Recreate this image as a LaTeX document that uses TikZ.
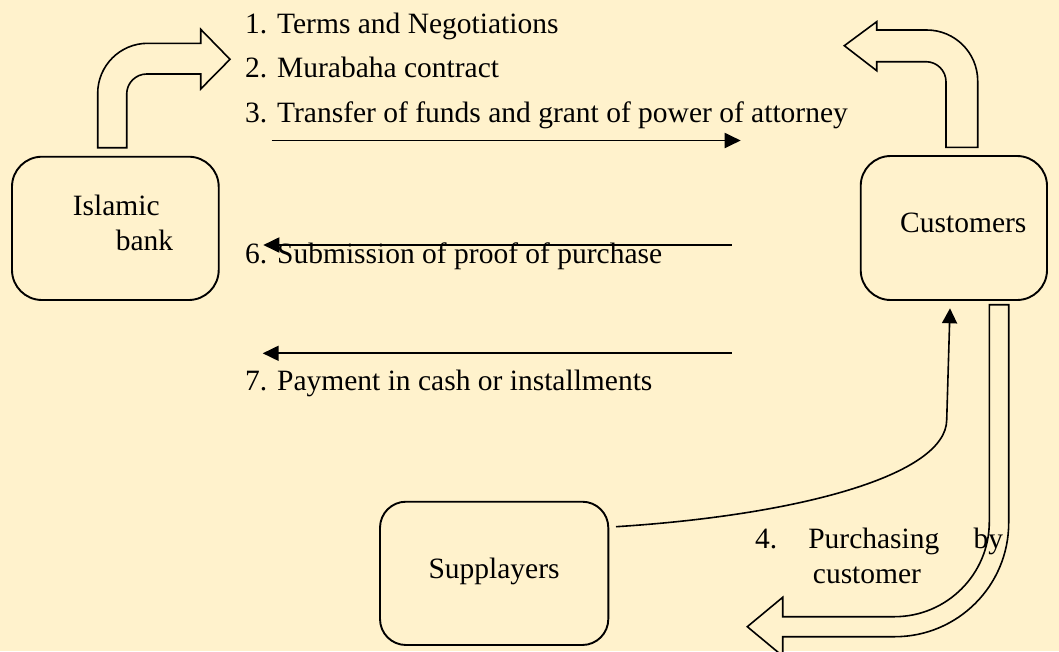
\documentclass[tikz,border=0pt]{standalone}
\usepackage{fontspec}
\setmainfont{Liberation Serif}
\usetikzlibrary{arrows.meta}
\definecolor{paper}{HTML}{FFF2CC}
\begin{document}
\begin{tikzpicture}[x=1pt,y=-1pt,
  box/.style={draw,line width=1.9pt,rounded corners=30pt,inner sep=0pt},
  lbl/.style={anchor=base west,inner sep=0pt,font=\fontsize{29.5}{35}\selectfont},
  bent/.style={draw,line width=1.6pt,fill=paper,line join=miter},
  flow/.style={line width=1.9pt,-{Triangle[length=16pt,width=15pt]}}]
\fill[paper] (0,0) rectangle (1059,651);
\useasboundingbox (0,0) rectangle (1059,651);

% parties
\node[box,minimum width=206.7pt,minimum height=143.3pt] (bank) at (115.35,228.35) {};
\node[box,minimum width=186.3pt,minimum height=144pt] (cust) at (953.85,228) {};
\node[box,rounded corners=26pt,minimum width=228.3pt,minimum height=143.3pt] (supp) at (494.15,573.35) {};

\node[lbl] (bankA) at (72.7,215) {Islamic};
\node[lbl] (bankB) at (115.7,250.7) {bank};
\node[lbl] (custT) at (900,232.7) {Customers};
\node[lbl] (suppT) at (428.3,578.3) {Supplayers};

% bent block arrows
\draw[bent] (97.7,147.7) -- (97.7,93.3)
  .. controls (97.7,65.7) and (120.1,43.3) .. (147.7,43.3)
  -- (200.7,43.3) -- (200.7,29.3) -- (230,59.3) -- (200.7,89) -- (200.7,74)
  -- (146.7,74) .. controls (135.7,74) and (126.7,83) .. (126.7,94)
  -- (126.7,147.7) -- cycle;
\draw[bent] (946,147.3) -- (946,81.7)
  .. controls (946,70.7) and (937,61.7) .. (926,61.7)
  -- (876.7,61.7) -- (876.7,70.7) -- (844.3,45.7) -- (876.7,21.7) -- (876.7,30)
  -- (926.7,30) .. controls (954.9,30) and (977.7,52.8) .. (977.7,81)
  -- (977.7,147.3) -- cycle;
\draw[bent] (989.3,304.7) -- (989.3,521.7)
  .. controls (989.3,574.2) and (946.8,616.7) .. (894.3,616.7)
  -- (782.7,616.7) -- (782.7,597.3) -- (747.3,626.7) -- (782.7,656.1) -- (782.7,636.7)
  -- (894.7,636.7) .. controls (957.7,636.7) and (1008.7,585.7) .. (1008.7,522.7)
  -- (1008.7,304.7) -- cycle;

% step labels
\node[lbl] (s1) at (245,33.3) {1. Terms and Negotiations};
\node[lbl] (s2) at (245,77.3) {2. Murabaha contract};
\node[lbl] (s3) at (245,122.7) {3. Transfer of funds and grant of power of attorney};
\node[lbl] (s6) at (245,263.3) {6. Submission of proof of purchase};
\node[lbl] (s7) at (245,390.7) {7. Payment in cash or installments};
\node[lbl] (s4a) at (755,548.3) {\makebox[248pt][l]{4.\hspace{31pt}Purchasing\hfill by}};
\node[lbl] (s4b) at (812.7,583.3) {customer};

% flow arrows
\coordinate (f3a) at (271.7,140.5);
\coordinate (f3b) at (740.7,140.5);
\coordinate (f6a) at (731.7,245);
\coordinate (f6b) at (263.3,245);
\coordinate (f7a) at (731.7,353.3);
\coordinate (f7b) at (262.7,353.3);
\coordinate (f5a) at (616,526.7);
\coordinate (f5b) at (950,308.3);
\draw[flow] (f3a) -- (f3b);
\draw[flow] (f6a) -- (f6b);
\draw[flow] (f7a) -- (f7b);
\draw[flow,line width=1.6pt,-{Triangle[length=15pt,width=15pt]}] (f5a)
  .. controls (800,515) and (946,475) .. (946.7,420) -- (f5b);
\end{tikzpicture}
\end{document}
